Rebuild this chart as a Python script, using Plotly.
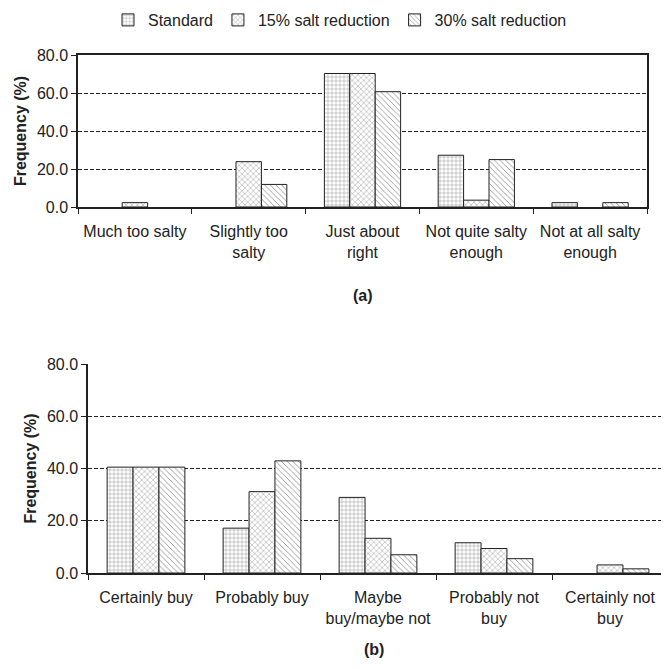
import plotly.graph_objects as go

series_names = ["Standard", "15% salt reduction", "30% salt reduction"]
patterns = ["+", "x", "\\"]

cats_a = ["Much too salty", "Slightly too<br>salty", "Just about<br>right",
          "Not quite salty<br>enough", "Not at all salty<br>enough"]
std_a = [0, 0, 70.4, 27.3, 2.3]
r15_a = [2.3, 23.9, 70.4, 3.6, 0]
r30_a = [0, 11.9, 60.8, 25.0, 2.3]

cats_b = ["Certainly buy", "Probably buy", "Maybe<br>buy/maybe not",
          "Probably not<br>buy", "Certainly not<br>buy"]
std_b = [40.6, 17.2, 29.0, 11.6, 0]
r15_b = [40.6, 31.2, 13.3, 9.4, 3.1]
r30_b = [40.6, 43.0, 7.0, 5.5, 1.6]

y_ticks = [0, 20, 40, 60, 80]

FONT = "Liberation Sans, Arial, sans-serif"
TXT = "#222222"
FS = 16

fig = go.Figure()

for name, pat, ya, yb in zip(series_names, patterns, [std_a, r15_a, r30_a], [std_b, r15_b, r30_b]):
    def mk(vals):
        return dict(color="white",
                    line=dict(color="#222222", width=[1 if v else 0 for v in vals]),
                    pattern=dict(shape=pat, fgcolor="#111111", bgcolor="white",
                                 size=4, solidity=0.2))
    fig.add_trace(go.Bar(x=cats_a, y=ya, name=name, marker=mk(ya),
                         legendgroup=name, showlegend=False,
                         xaxis="x", yaxis="y"))
    fig.add_trace(go.Bar(x=cats_b, y=yb, name=name, marker=mk(yb),
                         legendgroup=name, showlegend=True,
                         xaxis="x2", yaxis="y2"))

W = H = 669
OFF = 8  # page body margin offset
def px_x(v):
    return (v - OFF) / W
def px_y(v):
    return 1 - (v - OFF) / H

axis_common_y = dict(
    range=[0, 80.15], tickvals=y_ticks, tickformat=".1f",
    showgrid=True, gridcolor="#222222", griddash="4px,2px", gridwidth=1,
    showline=True, linecolor="#222222", linewidth=1.5,
    ticks="outside", ticklen=5, tickcolor="#222222",
    tickfont=dict(family=FONT, size=FS, color=TXT),
    title=dict(text="<b>Frequency (%)</b>", font=dict(family=FONT, size=FS, color=TXT), standoff=6),
    zeroline=False, automargin=False,
)
axis_common_x = dict(
    type="category", tickson="boundaries", ticks="outside", ticklen=5,
    tickcolor="#222222", showline=True, linecolor="#222222", linewidth=1.5,
    tickfont=dict(family=FONT, size=FS, color=TXT), showgrid=False,
    tickangle=0, automargin=False, ticklabelstandoff=9,
)

fig.update_layout(
    width=W, height=H,
    margin=dict(l=0, r=0, t=0, b=0, autoexpand=False),
    paper_bgcolor="white", plot_bgcolor="white",
    barmode="group", bargap=0.33, bargroupgap=0,
    font=dict(family=FONT, size=FS, color=TXT),
    xaxis=dict(domain=[px_x(78), px_x(647)], anchor="y", mirror=True, **axis_common_x),
    yaxis=dict(domain=[px_y(207), px_y(55)], anchor="x", mirror=True, **axis_common_y),
    xaxis2=dict(domain=[px_x(88), px_x(668)], anchor="y2", **axis_common_x),
    yaxis2=dict(domain=[px_y(573), px_y(364)], anchor="x2", mirror=True, **axis_common_y),
    legend=dict(orientation="h", x=px_x(340), xanchor="center", y=px_y(20), yanchor="middle",
                font=dict(family=FONT, size=FS, color=TXT), itemwidth=30,
                bgcolor="rgba(0,0,0,0)", tracegroupgap=0),
    annotations=[
        dict(text="<b>(a)</b>", x=px_x(363), y=px_y(295), xref="paper", yref="paper",
             showarrow=False, font=dict(family=FONT, size=FS, color=TXT)),
        dict(text="<b>(b)</b>", x=px_x(374), y=px_y(660), xref="paper", yref="paper",
             showarrow=False, font=dict(family=FONT, size=FS, color=TXT)),
    ],
)

fig.write_html("out.html")
